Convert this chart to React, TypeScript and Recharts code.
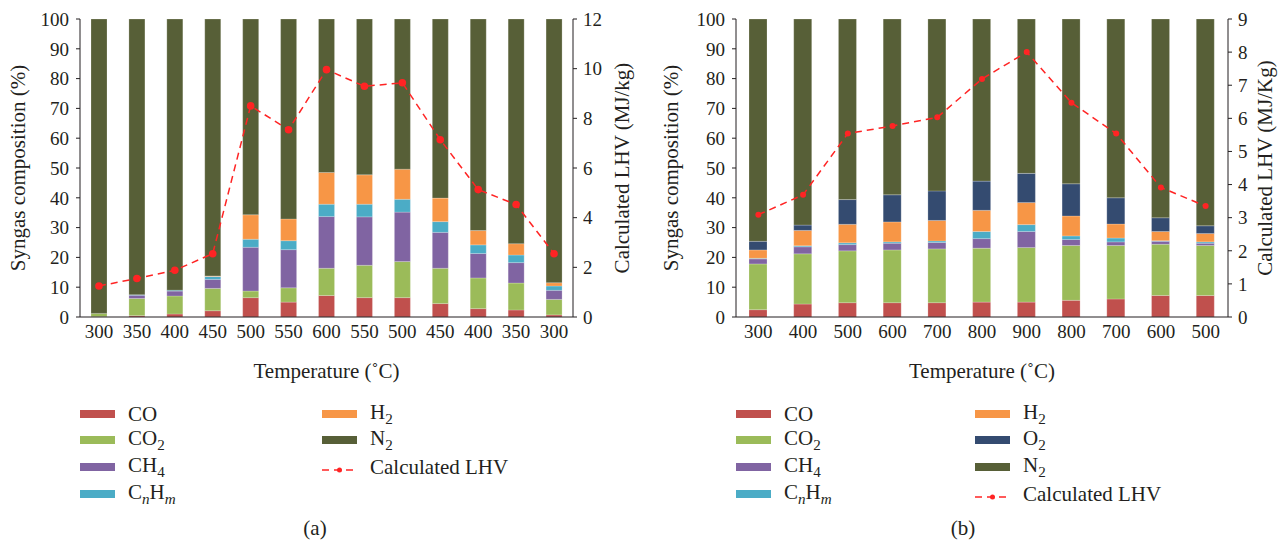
import { ComposedChart, Bar, Line, XAxis, YAxis, Label } from 'recharts'

// (a) left panel
const tempsA = ['300', '350', '400', '450', '500', '550', '600', '550', '500', '450', '400', '350', '300']
const coA = [0.1, 0.45, 1.0, 2.1, 6.5, 5.0, 7.2, 6.5, 6.5, 4.5, 2.8, 2.35, 0.7]
const co2A = [1.1, 5.75, 6.05, 7.5, 2.2, 4.8, 9.15, 10.85, 12.1, 11.85, 10.3, 9.05, 5.2]
const ch4A = [0, 1.1, 1.65, 3.0, 14.7, 12.8, 17.35, 16.25, 16.6, 12.05, 8.2, 6.85, 3.05]
const cnhmA = [0, 0.2, 0.3, 1.0, 2.7, 3.0, 4.15, 4.25, 4.3, 3.6, 2.9, 2.55, 1.45]
const h2A = [0, 0, 0, 0.2, 8.2, 7.3, 10.65, 9.85, 10.1, 7.9, 4.8, 3.8, 1.1]
const n2A = [98.8, 92.5, 91.0, 86.2, 65.7, 67.1, 51.5, 52.3, 50.4, 60.1, 71.0, 75.4, 88.5]
const lhvA = [1.25, 1.55, 1.88, 2.55, 8.5, 7.54, 9.96, 9.29, 9.43, 7.14, 5.13, 4.53, 2.55]

// (b) right panel
const tempsB = ['300', '400', '500', '600', '700', '800', '900', '800', '700', '600', '500']
const coB = [2.45, 4.35, 4.8, 4.8, 4.8, 5.0, 5.0, 5.6, 6.05, 7.2, 7.2]
const co2B = [15.35, 16.85, 17.4, 17.7, 18.05, 18.1, 18.3, 18.4, 17.95, 17.2, 16.8]
const ch4B = [1.7, 2.35, 2.1, 2.25, 2.15, 3.2, 5.4, 2.0, 1.2, 1.0, 0.75]
const cnhmB = [0.2, 0.35, 0.6, 0.45, 0.5, 2.4, 2.3, 1.2, 1.3, 0.2, 0.45]
const h2B = [2.8, 5.15, 6.2, 6.7, 6.9, 7.1, 7.4, 6.7, 4.7, 3.1, 2.8]
const o2B = [2.9, 1.8, 8.3, 9.1, 9.9, 9.8, 9.8, 10.8, 8.8, 4.6, 2.6]
const n2B = [74.6, 69.15, 60.6, 59.0, 57.7, 54.4, 51.8, 55.3, 60.0, 66.7, 69.4]
const lhvB = [3.09, 3.69, 5.54, 5.77, 6.03, 7.19, 8.0, 6.47, 5.54, 3.91, 3.35]

const pctTicks = [0, 10, 20, 30, 40, 50, 60, 70, 80, 90, 100]
const lhvTicksA = [0, 2, 4, 6, 8, 10, 12]
const lhvTicksB = [0, 1, 2, 3, 4, 5, 6, 7, 8, 9]

const C = {
  co: '#c0504d',
  co2: '#9bbb59',
  ch4: '#8064a2',
  cnhm: '#4bacc6',
  h2: '#f79646',
  o2: '#344b70',
  n2: '#575f37',
  lhv: '#ff2424',
  ink: '#231f20',
}
const FONT = '"Liberation Serif", "DejaVu Serif", serif'
const tickStyle = { fill: C.ink, fontSize: 19, fontFamily: FONT }
const labelStyle = { textAnchor: 'middle' as const, fill: C.ink, fontSize: 21, fontFamily: FONT }

const dataA = tempsA.map((t, i) => ({
  idx: i, t, co: coA[i], co2: co2A[i], ch4: ch4A[i], cnhm: cnhmA[i], h2: h2A[i], n2: n2A[i], lhv: lhvA[i],
}))
const dataB = tempsB.map((t, i) => ({
  idx: i, t, co: coB[i], co2: co2B[i], ch4: ch4B[i], cnhm: cnhmB[i], h2: h2B[i], o2: o2B[i], n2: n2B[i], lhv: lhvB[i],
}))

function Panel({ data, keys, size, barSize, lhvMax, lhvTicks, lhvLabel, rightW, dotR }: any) {
  return (
    <ComposedChart
      width={size.w}
      height={400}
      data={data}
      margin={{ top: 19, right: size.r, left: 0, bottom: 23 }}
      barCategoryGap={0}
    >
      <XAxis
        dataKey="idx"
        type="category"
        tickFormatter={(v: number) => data[v].t}
        tick={tickStyle}
        tickLine={false}
        axisLine={{ stroke: C.ink }}
        height={60}
        interval={0}
      >
        <Label value="Temperature (˚C)" position="insideBottom" offset={-1} style={labelStyle} />
      </XAxis>
      <YAxis
        yAxisId="pct"
        domain={[0, 100]}
        ticks={pctTicks}
        tick={tickStyle}
        tickSize={4}
        tickMargin={7}
        axisLine={{ stroke: C.ink }}
        tickLine={{ stroke: C.ink }}
        width={size.lw}
        interval={0}
      >
        <Label value="Syngas composition (%)" angle={-90} position="center" dx={size.ldx} style={labelStyle} />
      </YAxis>
      <YAxis
        yAxisId="lhv"
        orientation="right"
        domain={[0, lhvMax]}
        ticks={lhvTicks}
        tick={tickStyle}
        tickSize={4}
        tickMargin={6}
        axisLine={{ stroke: C.ink }}
        tickLine={{ stroke: C.ink }}
        width={rightW}
        interval={0}
      >
        <Label value={lhvLabel} angle={-90} position="center" dx={size.rdx} style={labelStyle} />
      </YAxis>
      {keys.map((k: string) => (
        <Bar
          key={k}
          yAxisId="pct"
          dataKey={k}
          stackId="s"
          fill={(C as any)[k]}
          stroke="#ffffff"
          strokeOpacity={0.35}
          strokeWidth={0.6}
          barSize={barSize}
          isAnimationActive={false}
        />
      ))}
      <Line
        yAxisId="lhv"
        dataKey="lhv"
        type="linear"
        stroke={C.lhv}
        strokeWidth={1.5}
        strokeDasharray="7 5"
        dot={{ r: dotR, fill: C.lhv, stroke: 'none' }}
        isAnimationActive={false}
      />
    </ComposedChart>
  )
}

function Swatch({ color }: { color: string }) {
  return <div style={{ width: 35, height: 8, background: color }} />
}

function LhvIcon() {
  return (
    <svg width={35} height={8}>
      <line x1={0} y1={4} x2={35} y2={4} stroke={C.lhv} strokeWidth={1.5} strokeDasharray="7 5" />
      <circle cx={17.5} cy={4} r={2.5} fill={C.lhv} />
    </svg>
  )
}

const sub = { fontSize: '0.72em', verticalAlign: '-0.3em' }

function LegendItem({ x, y, icon, children }: any) {
  return (
    <div style={{ position: 'absolute', left: x, top: y - 13, height: 26, display: 'flex', alignItems: 'center', fontFamily: FONT, fontSize: 21, color: C.ink, whiteSpace: 'nowrap' }}>
      <div style={{ width: 48 }}>{icon}</div>
      <span>{children}</span>
    </div>
  )
}

export default function App() {
  const rows = [414, 440, 467, 494]
  return (
    <div style={{ position: 'absolute', left: 0, top: 0, width: 1285, height: 548, background: '#fff', overflow: 'hidden' }}>
      <div style={{ position: 'absolute', left: 0, top: 0 }}>
        <Panel
          data={dataA}
          keys={['co', 'co2', 'ch4', 'cnhm', 'h2', 'n2']}
          size={{ w: 640, r: 7, lw: 80, ldx: -22, rdx: 19 }}
          rightW={60}
          barSize={16}
          lhvMax={12}
          lhvTicks={lhvTicksA}
          lhvLabel="Calculated LHV (MJ/kg)"
          dotR={3.8}
        />
      </div>
      <div style={{ position: 'absolute', left: 650, top: 0 }}>
        <Panel
          data={dataB}
          keys={['co', 'co2', 'ch4', 'cnhm', 'h2', 'o2', 'n2']}
          size={{ w: 635, r: 5, lw: 86, ldx: -22, rdx: 11 }}
          rightW={52}
          barSize={18}
          lhvMax={9}
          lhvTicks={lhvTicksB}
          lhvLabel="Calculated LHV (MJ/Kg)"
          dotR={3}
        />
      </div>

      <LegendItem x={80} y={rows[0]} icon={<Swatch color={C.co} />}>CO</LegendItem>
      <LegendItem x={80} y={rows[1]} icon={<Swatch color={C.co2} />}>CO<sub style={sub}>2</sub></LegendItem>
      <LegendItem x={80} y={rows[2]} icon={<Swatch color={C.ch4} />}>CH<sub style={sub}>4</sub></LegendItem>
      <LegendItem x={80} y={rows[3]} icon={<Swatch color={C.cnhm} />}>C<sub style={sub}><i>n</i></sub>H<sub style={sub}><i>m</i></sub></LegendItem>
      <LegendItem x={322} y={rows[0]} icon={<Swatch color={C.h2} />}>H<sub style={sub}>2</sub></LegendItem>
      <LegendItem x={322} y={rows[1]} icon={<Swatch color={C.n2} />}>N<sub style={sub}>2</sub></LegendItem>
      <LegendItem x={322} y={rows[2]} icon={<LhvIcon />}>Calculated LHV</LegendItem>

      <LegendItem x={736} y={rows[0]} icon={<Swatch color={C.co} />}>CO</LegendItem>
      <LegendItem x={736} y={rows[1]} icon={<Swatch color={C.co2} />}>CO<sub style={sub}>2</sub></LegendItem>
      <LegendItem x={736} y={rows[2]} icon={<Swatch color={C.ch4} />}>CH<sub style={sub}>4</sub></LegendItem>
      <LegendItem x={736} y={rows[3]} icon={<Swatch color={C.cnhm} />}>C<sub style={sub}><i>n</i></sub>H<sub style={sub}><i>m</i></sub></LegendItem>
      <LegendItem x={975} y={rows[0]} icon={<Swatch color={C.h2} />}>H<sub style={sub}>2</sub></LegendItem>
      <LegendItem x={975} y={rows[1]} icon={<Swatch color={C.o2} />}>O<sub style={sub}>2</sub></LegendItem>
      <LegendItem x={975} y={rows[2]} icon={<Swatch color={C.n2} />}>N<sub style={sub}>2</sub></LegendItem>
      <LegendItem x={975} y={rows[3]} icon={<LhvIcon />}>Calculated LHV</LegendItem>

      <div style={{ position: 'absolute', left: 295, top: 516, width: 40, textAlign: 'center', fontFamily: FONT, fontSize: 21, color: C.ink }}>(a)</div>
      <div style={{ position: 'absolute', left: 943, top: 516, width: 40, textAlign: 'center', fontFamily: FONT, fontSize: 21, color: C.ink }}>(b)</div>
    </div>
  )
}
